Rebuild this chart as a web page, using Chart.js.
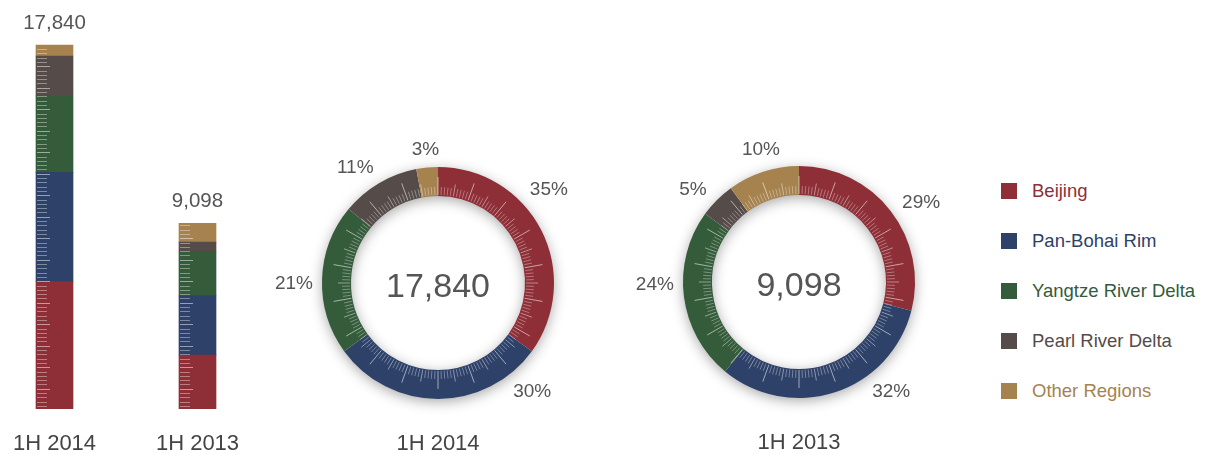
<!DOCTYPE html>
<html>
<head>
<meta charset="utf-8">
<script src="https://cdn.jsdelivr.net/npm/chart.js@4/dist/chart.umd.min.js"></script>
<style>
  html, body { margin:0; padding:0; background:#fff; }
  #wrap { position:relative; width:1209px; height:454px; overflow:hidden; background:#fff; font-family:"Liberation Sans", Arial, sans-serif; }
  .box { position:absolute; }
  #legend { position:absolute; left:1001px; top:0; }
  .item { position:absolute; left:0; white-space:nowrap; font-size:18.5px; line-height:20px; }
  .sw { position:absolute; left:0; top:2px; width:16px; height:16px; }
  .lt { position:absolute; left:31px; top:0; }
</style>
</head>
<body>
<div id="wrap">
  <div class="box" style="left:-17px;top:0;width:286px;height:454px"><canvas id="bars" width="286" height="454"></canvas></div>
  <div class="box" style="left:268px;top:113px;width:340px;height:340px"><canvas id="d0" width="340" height="340"></canvas></div>
  <div class="box" style="left:629px;top:112px;width:340px;height:340px"><canvas id="d1" width="340" height="340"></canvas></div>
  <div id="legend"></div>
</div>
<script>
// ---- data ----
const categories = ['1H 2014', '1H 2013'];
const regions = ['Beijing', 'Pan-Bohai Rim', 'Yangtze River Delta', 'Pearl River Delta', 'Other Regions'];
const beijing  = [6244, 2638];
const panBohai = [5352, 2911];
const yangtze  = [3747, 2184];
const pearl    = [1962, 455];
const other    = [535, 910];
const seriesValues = [beijing, panBohai, yangtze, pearl, other];
const colors = ['#8E2E36', '#2D4169', '#345B3A', '#554B48', '#A6824F'];

const FONT = '"Liberation Sans", Arial, sans-serif';
const fmt = v => v.toLocaleString('en-US');
const totals = categories.map((c, i) => seriesValues.reduce((s, arr) => s + arr[i], 0));

// ---- legend ----
const legend = document.getElementById('legend');
regions.forEach((r, k) => {
  const d = document.createElement('div');
  d.className = 'item';
  d.style.top = (181 + k * 50) + 'px';
  d.innerHTML = '<span class="sw" style="background:' + colors[k] + '"></span><span class="lt" style="color:' + colors[k] + '">' + r + '</span>';
  legend.appendChild(d);
});

// ---- stacked bars ----
const barDecor = {
  id: 'barDecor',
  afterDatasetsDraw(chart) {
    const ctx = chart.ctx;
    const n = chart.data.datasets.length;
    categories.forEach((c, i) => {
      const bottomEl = chart.getDatasetMeta(0).data[i];
      const topEl = chart.getDatasetMeta(n - 1).data[i];
      const left = bottomEl.x - bottomEl.width / 2;
      const base = bottomEl.base;
      const top = topEl.y;
      ctx.save();
      ctx.lineWidth = 1;
      let k = 0;
      for (let yy = base - 3; yy > top + 1; yy -= 4.3, k++) {
        const long = (k % 5 === 4);
        ctx.strokeStyle = long ? 'rgba(255,255,255,0.5)' : 'rgba(255,255,255,0.38)';
        ctx.beginPath();
        ctx.moveTo(left + 1, Math.round(yy) + 0.5);
        ctx.lineTo(left + (long ? 14 : 11), Math.round(yy) + 0.5);
        ctx.stroke();
      }
      ctx.fillStyle = '#555';
      ctx.font = '20.5px ' + FONT;
      ctx.textAlign = 'center';
      ctx.textBaseline = 'middle';
      ctx.fillText(fmt(totals[i]), topEl.x, top - 22);
      ctx.restore();
    });
  }
};

new Chart(document.getElementById('bars'), {
  type: 'bar',
  data: {
    labels: categories,
    datasets: regions.map((r, k) => ({
      label: r,
      data: seriesValues[k],
      backgroundColor: colors[k],
      borderWidth: 0,
      barThickness: 37
    }))
  },
  options: {
    responsive: false,
    animation: false,
    layout: { padding: { top: 1, left: 0, right: 0, bottom: 0 } },
    plugins: { legend: { display: false }, tooltip: { enabled: false } },
    scales: {
      x: {
        stacked: true,
        grid: { display: false, drawTicks: false },
        border: { display: false },
        ticks: { color: '#444', font: { size: 22, family: FONT }, padding: 22 },
        afterFit(s) { s.height = 45; }
      },
      y: { stacked: true, display: false, min: 0, max: 20000 }
    }
  },
  plugins: [barDecor]
});

// ---- doughnuts ----
const ringDecor = {
  id: 'ringDecor',
  beforeDatasetsDraw(chart) {
    const a = chart.getDatasetMeta(0).data[0];
    const ctx = chart.ctx;
    ctx.save();
    ctx.shadowColor = 'rgba(0,0,0,0.38)';
    ctx.shadowBlur = 14;
    ctx.shadowOffsetY = 3;
    ctx.beginPath();
    ctx.arc(a.x, a.y, a.outerRadius - 1, 0, Math.PI * 2);
    ctx.arc(a.x, a.y, a.innerRadius + 1, 0, Math.PI * 2, true);
    ctx.fillStyle = '#fff';
    ctx.fill();
    ctx.restore();
  },
  afterDatasetsDraw(chart, args, opts) {
    const ctx = chart.ctx;
    const meta = chart.getDatasetMeta(0);
    const a0 = meta.data[0];
    const cx = a0.x, cy = a0.y, R = a0.outerRadius, r = a0.innerRadius;
    ctx.save();
    // radial ticks
    ctx.lineWidth = 1;
    for (let k = 0; k < 180; k++) {
      const ang = -Math.PI / 2 + k * Math.PI / 90;
      let len = 8, col = 'rgba(255,255,255,0.35)';
      if (k % 10 === 0) { len = 18; col = 'rgba(255,255,255,0.55)'; }
      else if (k % 5 === 0) { len = 12; col = 'rgba(255,255,255,0.45)'; }
      ctx.strokeStyle = col;
      ctx.beginPath();
      ctx.moveTo(cx + (r + 1) * Math.cos(ang), cy + (r + 1) * Math.sin(ang));
      ctx.lineTo(cx + (r + 1 + len) * Math.cos(ang), cy + (r + 1 + len) * Math.sin(ang));
      ctx.stroke();
    }
    // percentage labels
    const data = chart.data.datasets[0].data;
    const tot = data.reduce((s, v) => s + v, 0);
    ctx.font = '19px ' + FONT;
    ctx.fillStyle = '#555';
    ctx.textAlign = 'center';
    ctx.textBaseline = 'middle';
    meta.data.forEach((arc, j) => {
      const txt = Math.round(data[j] / tot * 100) + '%';
      const mid = (arc.startAngle + arc.endAngle) / 2 + (opts.shift[j] || 0) * Math.PI / 180;
      const hw = ctx.measureText(txt).width / 2;
      const rr = R + 9 + hw * Math.abs(Math.cos(mid)) + 8 * Math.abs(Math.sin(mid));
      ctx.fillText(txt, cx + rr * Math.cos(mid), cy + rr * Math.sin(mid));
    });
    // center total
    ctx.font = '34px ' + FONT;
    ctx.fillText(fmt(tot), cx, cy + 5);
    // bottom caption
    ctx.font = '22px ' + FONT;
    ctx.fillStyle = '#444';
    ctx.fillText(opts.caption, cx, cy + 161);
    ctx.restore();
  }
};

const labelShifts = [[-13, -41, -2, -5, 0], [5, -22, 6, -4, 2]];

categories.forEach((cat, i) => {
  new Chart(document.getElementById('d' + i), {
    type: 'doughnut',
    data: {
      labels: regions,
      datasets: [{
        data: seriesValues.map(arr => arr[i]),
        backgroundColor: colors,
        borderWidth: 0
      }]
    },
    options: {
      responsive: false,
      animation: false,
      cutout: '75%',
      layout: { padding: 54 },
      plugins: {
        legend: { display: false },
        tooltip: { enabled: false },
        ringDecor: { caption: cat, shift: labelShifts[i] }
      }
    },
    plugins: [ringDecor]
  });
});
</script>
</body>
</html>
